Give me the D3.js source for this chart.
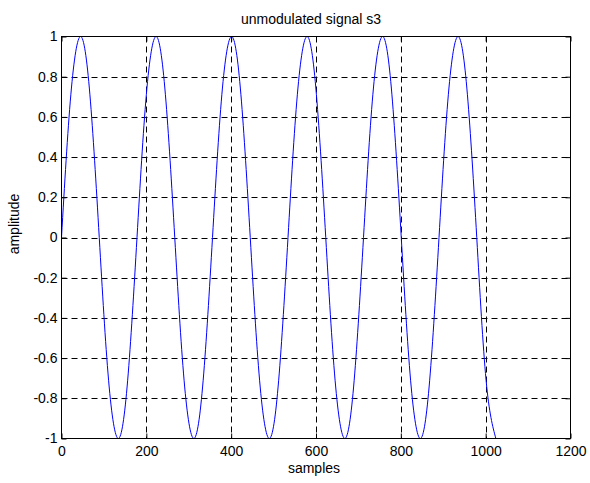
<!DOCTYPE html>
<html><head><meta charset="utf-8">
<script src="https://cdn.jsdelivr.net/npm/d3@7"></script>
<style>body{margin:0;background:#fff}svg{display:block}text{font-family:"Liberation Sans",Arial,sans-serif;fill:#000}</style>
</head><body>
<script>
const samples = [0,22,45,67,89,111,134,156,178,200,223,245,267,289,312,334,356,378,401,423,445,467,490,512,534,556,579,601,623,645,668,690,712,734,757,779,801,823,846,868,890,912,935,957,979,1001,1024];
const amplitude = [0,0.71,1,0.71,0,-0.71,-1,-0.71, 0,0.71,1,0.71,0,-0.71,-1,-0.71, 0,0.71,1,0.71,0,-0.71,-1,-0.71, 0,0.71,1,0.71,0,-0.71,-1,-0.71, 0,0.71,1,0.71,0,-0.71,-1,-0.71, 0,0.71,1,0.71,0,-0.71,-1];
const xTicks = [0,200,400,600,800,1000,1200];
const yTicks = [-1,-0.8,-0.6,-0.4,-0.2,0,0.2,0.4,0.6,0.8,1];
const titleText = "unmodulated signal s3";
const xLabelText = "samples";
const yLabelText = "amplitude";

const W = 590, H = 483;
const m = {left: 61.5, right: 570.5, top: 36.5, bottom: 438.5};
const svg = d3.select("body").append("svg").attr("width", W).attr("height", H);
const x = d3.scaleLinear().domain([0,1200]).range([m.left, m.right]);
const y = d3.scaleLinear().domain([-1,1]).range([m.bottom, m.top]);

// grid
const g = svg.append("g");
g.selectAll("line.vx").data(xTicks.slice(1,-1)).join("line")
  .attr("x1", d=>Math.round(x(d))+0.5).attr("x2", d=>Math.round(x(d))+0.5)
  .attr("y1", m.top).attr("y2", m.bottom)
  .attr("stroke","#000").attr("stroke-width",1).attr("stroke-dasharray","6,4");
g.selectAll("line.hy").data(yTicks.slice(1,-1)).join("line")
  .attr("y1", d=>Math.round(y(d))+0.5).attr("y2", d=>Math.round(y(d))+0.5)
  .attr("x1", m.left).attr("x2", m.right)
  .attr("stroke","#000").attr("stroke-width",1).attr("stroke-dasharray","6,4");

// curve
const line = d3.line().x((d,i)=>x(samples[i])).y(d=>y(d)).curve(d3.curveNatural);
svg.append("path").datum(amplitude).attr("d", line)
  .attr("fill","none").attr("stroke","#0000ff").attr("stroke-width",1);

// axes (box with inward ticks)
const axB = d3.axisBottom(x).tickValues(xTicks).tickSize(-5).tickPadding(8).tickFormat(d3.format("d"));
const axT = d3.axisTop(x).tickValues(xTicks).tickSize(-5).tickFormat("");
const axL = d3.axisLeft(y).tickValues(yTicks).tickSize(-5).tickPadding(4).tickFormat(d=>String(d));
const axR = d3.axisRight(y).tickValues(yTicks).tickSize(-5).tickFormat("");
function style(sel){ sel.select(".domain").remove(); sel.selectAll("line").attr("stroke","#000"); sel.selectAll("text").attr("font-size",14).attr("font-family","Liberation Sans, Arial, sans-serif"); }
svg.append("g").attr("transform",`translate(0,${m.bottom})`).call(axB).call(style);
svg.append("g").attr("transform",`translate(0,${m.top})`).call(axT).call(style);
svg.append("g").attr("transform",`translate(${m.left},0)`).call(axL).call(style);
svg.append("g").attr("transform",`translate(${m.right},0)`).call(axR).call(style);
svg.append("rect").attr("x",m.left).attr("y",m.top).attr("width",m.right-m.left).attr("height",m.bottom-m.top)
  .attr("fill","none").attr("stroke","#000").attr("stroke-width",1);

svg.append("text").attr("x",311).attr("y",23.5).attr("text-anchor","middle").attr("font-size",14).text(titleText);
svg.append("text").attr("x",314).attr("y",473).attr("text-anchor","middle").attr("font-size",14).text(xLabelText);
svg.append("text").attr("transform",`translate(19,224) rotate(-90)`).attr("text-anchor","middle").attr("font-size",14).text(yLabelText);
</script>
</body></html>
